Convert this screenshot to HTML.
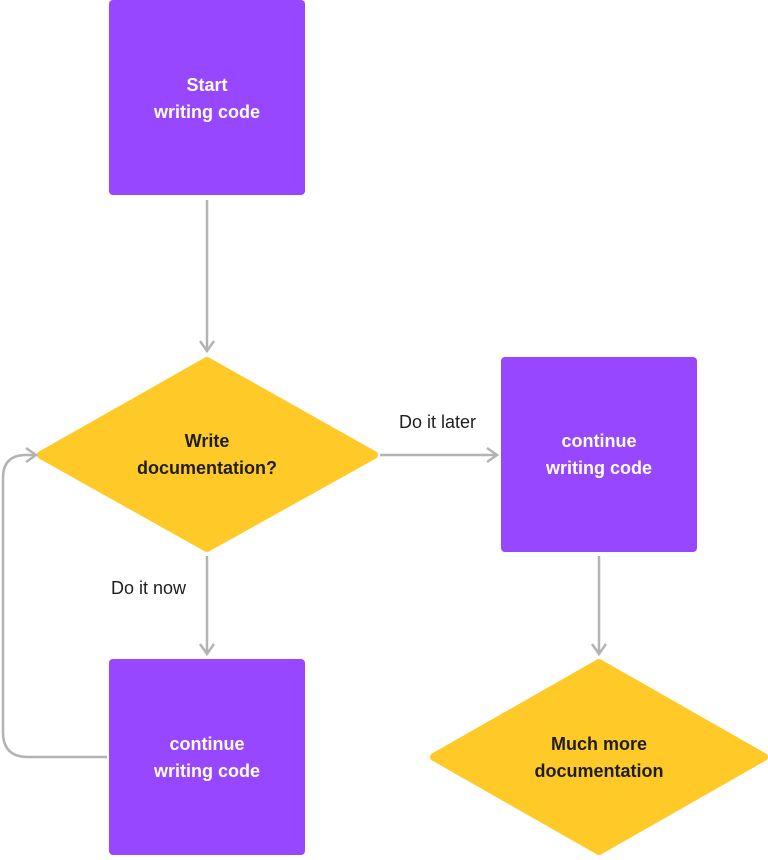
<!DOCTYPE html>
<html><head><meta charset="utf-8"><style>
body{margin:0;background:#fff;width:768px;height:855px;overflow:hidden}
svg text{font-family:"Liberation Sans",sans-serif;font-size:18px}
</style></head><body>
<svg width="768" height="855" viewBox="0 0 768 855" xmlns="http://www.w3.org/2000/svg">
<defs>
<marker id="a" markerWidth="16" markerHeight="16" refX="13" refY="8" orient="auto" markerUnits="userSpaceOnUse">
<path d="M3 1 L13 8 L3 15" fill="none" stroke="#B3B3B3" stroke-width="2.5"/>
</marker>
</defs>
<g fill="#9747FF">
<rect x="109" y="0" width="196" height="195" rx="4"/>
<rect x="501" y="357" width="196" height="195" rx="4"/>
<rect x="109" y="659" width="196" height="196" rx="4"/>
</g>
<g fill="#FFCA28" stroke="#FFCA28" stroke-width="8" stroke-linejoin="round">
<polygon points="207,361 374,455 207,548 41,455"/>
<polygon points="599,663 764,757 599,851 434,757"/>
</g>
<g stroke="#B3B3B3" stroke-width="2.5" fill="none">
<line x1="207" y1="200" x2="207" y2="351" marker-end="url(#a)"/>
<line x1="380" y1="455" x2="497" y2="455" marker-end="url(#a)"/>
<line x1="207" y1="556" x2="207" y2="654" marker-end="url(#a)"/>
<line x1="599" y1="556" x2="599" y2="654" marker-end="url(#a)"/>
<path d="M107 757 H28 Q3 757 3 732 V478 Q3 455 26 455 H36" marker-end="url(#a)"/>
</g>
<g fill="#fff" font-weight="bold" text-anchor="middle">
<text x="207" y="91">Start</text><text x="207" y="118">writing code</text>
<text x="599" y="447">continue</text><text x="599" y="474">writing code</text>
<text x="207" y="750">continue</text><text x="207" y="777">writing code</text>
</g>
<g fill="#1E1E1E" font-weight="bold" text-anchor="middle">
<text x="207" y="447">Write</text><text x="207" y="474">documentation?</text>
<text x="599" y="750">Much more</text><text x="599" y="777">documentation</text>
</g>
<g fill="#1E1E1E">
<text x="399" y="428">Do it later</text>
<text x="111" y="594">Do it now</text>
</g>
</svg>
</body></html>
